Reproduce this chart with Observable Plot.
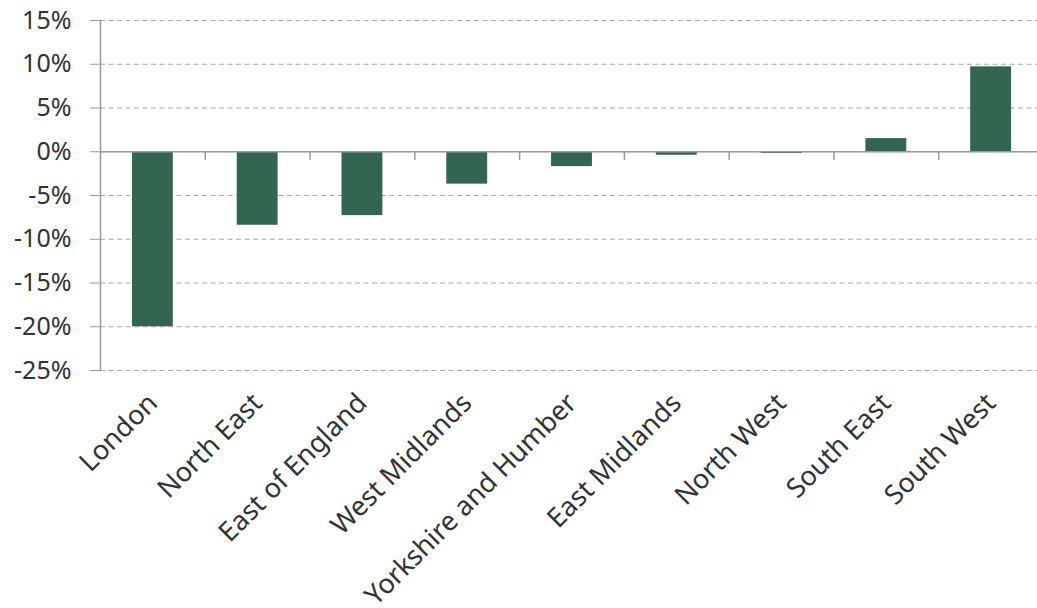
<!DOCTYPE html>
<html>
<head>
<meta charset="utf-8">
<script src="https://cdn.jsdelivr.net/npm/d3@7"></script>
<script src="https://cdn.jsdelivr.net/npm/@observablehq/plot@0.6"></script>
<style>
  html, body { margin: 0; padding: 0; background: #fff; overflow: hidden; }
  #chart svg { display: block; }
  #chart svg text { font-size: 25px !important; font-family: 'Noto Sans', 'Open Sans', sans-serif !important; }
  #chart svg g[aria-label="x-axis tick label"] text { font-size: 27px !important; }
</style>
</head>
<body>
<div id="chart"></div>
<script>
const regions = ["London", "North East", "East of England", "West Midlands", "Yorkshire and Humber", "East Midlands", "North West", "South East", "South West"];
const values = [-20.0, -8.4, -7.3, -3.7, -1.7, -0.4, -0.2, 1.5, 9.7];
const yTicks = [-25, -20, -15, -10, -5, 0, 5, 10, 15];

const data = regions.map((r, i) => ({region: r, value: values[i]}));

const xRange = [100, 1043];
const step = (xRange[1] - xRange[0]) / regions.length;

const chart = Plot.plot({
  width: 1037,
  height: 608,
  marginLeft: 100,
  marginRight: 0,
  marginTop: 20,
  marginBottom: 238,
  style: {fontFamily: "'Noto Sans', 'Open Sans', sans-serif", fontSize: "25px", color: "#333", background: "#fff"},
  x: {domain: regions, range: xRange, paddingInner: 0.61, paddingOuter: 0.305, round: false, label: null},
  y: {domain: [-25, 15], label: null},
  marks: [
    Plot.gridY(yTicks, {stroke: "#aaa", strokeOpacity: 1, strokeDasharray: "5,3.5", strokeWidth: 1}),
    Plot.barY(data, {x: "region", y: "value", fill: "#336650"}),
    Plot.ruleY([0], {stroke: "#999", strokeWidth: 1.5}),
    Plot.ruleX(regions.slice(1), {x: d => d, y1: 0, y2: -1, dx: -step / 2, stroke: "#999", strokeWidth: 1.5}),
    Plot.frame({anchor: "left", stroke: "#999", strokeWidth: 1.5}),
    Plot.axisY(yTicks, {tickSize: 10, tickPadding: 19, stroke: "#999", tickFormat: d => d + "%", fill: "#333"}),
    Plot.axisX({anchor: "bottom", tickSize: 0, tickPadding: 28, tickRotate: -45, fill: "#333", label: null})
  ]
});
document.getElementById("chart").appendChild(chart);
</script>
</body>
</html>
